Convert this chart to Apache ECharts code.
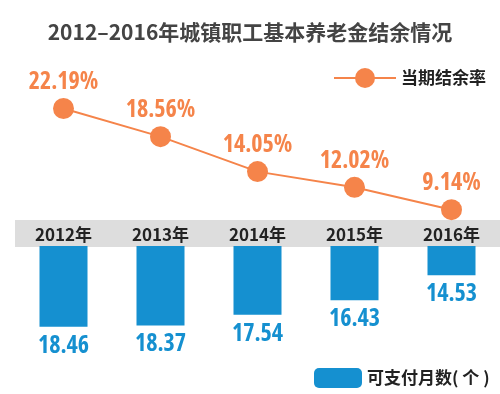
<!DOCTYPE html>
<html><head><meta charset="utf-8">
<script src="https://cdn.jsdelivr.net/npm/echarts@6/dist/echarts.min.js"></script>
<style>html,body{margin:0;padding:0;background:#fff}#c{width:500px;height:394px}</style>
</head><body><div id="c"></div>
<script>
var years = ['2012年','2013年','2014年','2015年','2016年'];
var surplusRate = [22.19, 18.56, 14.05, 12.02, 9.14];
var payableMonths = [18.46, 18.37, 17.54, 16.43, 14.53];
var titleText = '2012–2016年城镇职工基本养老金结余情况';
var lineName = '当期结余率';
var barName = '可支付月数( 个 )';

var ORANGE = '#f5844a', BLUE = '#1590d0';
var chart = echarts.init(document.getElementById('c'));
chart.setOption({
  animation: false,
  title: {text: titleText, left: 'center', top: 17,
    textStyle: {fontSize: 21, fontWeight: 'bold', color: '#444', fontFamily: '"Noto Sans CJK SC",sans-serif'}},
  legend: [
    {data: [lineName], left: 328, top: 63, itemWidth: 62, itemHeight: 25, itemGap: 0,
      textStyle: {fontSize: 17, fontWeight: 'bold', color: '#222', fontFamily: '"Noto Sans CJK SC",sans-serif'}},
    {data: [barName], left: 309, top: 363, itemWidth: 48, itemHeight: 20, itemGap: 0,
      textStyle: {fontSize: 17, fontWeight: 'bold', color: '#222', fontFamily: '"Noto Sans CJK SC",sans-serif'}}
  ],
  grid: [
    {left: 15, top: 246, width: 489, height: 101},
    {left: 15, top: 94.5, width: 485, height: 186}
  ],
  xAxis: [
    {type: 'category', gridIndex: 0, data: years, position: 'top', offset: 13,
      axisLine: {lineStyle: {color: '#dddddd', width: 27, cap: 'butt'}}, axisTick: {show: false},
      axisLabel: {margin: -2, verticalAlign: 'middle', fontSize: 17, fontWeight: 'bold', color: '#222',
        fontFamily: '"Noto Sans CJK SC",sans-serif'}},
    {type: 'category', gridIndex: 1, data: years, show: false}
  ],
  yAxis: [
    {type: 'value', gridIndex: 0, inverse: true, min: 12.3, max: 20, show: false},
    {type: 'value', gridIndex: 1, min: 0, max: 24, show: false}
  ],
  series: [
    {name: barName, type: 'bar', xAxisIndex: 0, yAxisIndex: 0, data: payableMonths, barWidth: 48,
      itemStyle: {color: BLUE},
      label: {show: true, position: 'bottom', distance: 7, color: BLUE, fontSize: 24, fontWeight: 'bold condensed', fontFamily: '"Open Sans"'}},
    {name: lineName, type: 'line', xAxisIndex: 1, yAxisIndex: 1, data: surplusRate, z: 5,
      symbol: 'circle', symbolSize: 21,
      lineStyle: {color: ORANGE, width: 2}, itemStyle: {color: ORANGE},
      label: {show: true, position: 'top', distance: 4, color: ORANGE, fontSize: 24, fontWeight: 'bold condensed', fontFamily: '"Open Sans"',
        formatter: function(p){ return p.value.toFixed(2) + '%'; }}}
  ]
});
</script></body></html>
